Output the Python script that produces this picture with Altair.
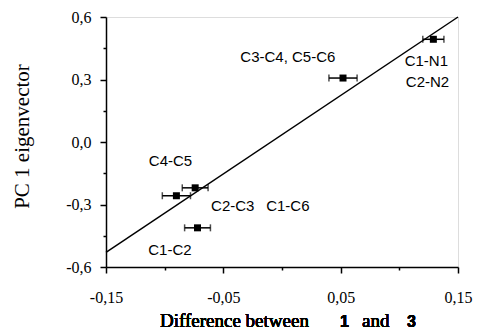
import altair as alt
import pandas as pd

# Data points (difference between 1 and 3, PC 1 eigenvector) with x error
pt_x = [0.129, 0.052, -0.074, -0.090, -0.072]
pt_y = [0.493, 0.307, -0.220, -0.258, -0.412]
pt_err = [0.009, 0.012, 0.011, 0.012, 0.011]

# Fitted line end points
line_x = [-0.15, 0.15]
line_y = [-0.53, 0.60]

# Annotations
lab_text = ["C3-C4, C5-C6", "C1-N1", "C2-N2", "C4-C5", "C2-C3", "C1-C6", "C1-C2"]
lab_x = [0.005, 0.123, 0.124, -0.095, -0.042, 0.005, -0.0955]
lab_y = [0.407, 0.390, 0.289, -0.090, -0.306, -0.306, -0.518]

x_ticks = [-0.15, -0.10, -0.05, 0.0, 0.05, 0.10, 0.15]
y_ticks = [-0.6, -0.45, -0.3, -0.15, 0.0, 0.15, 0.3, 0.45, 0.6]

df_pts = pd.DataFrame({"x": pt_x, "y": pt_y,
                       "xlo": [a - e for a, e in zip(pt_x, pt_err)],
                       "xhi": [a + e for a, e in zip(pt_x, pt_err)]})
df_line = pd.DataFrame({"x": line_x, "y": line_y})
df_lab = pd.DataFrame({"t": lab_text, "x": lab_x, "y": lab_y})

xs = alt.Scale(domain=[-0.15, 0.15], nice=False, zero=False)
ys = alt.Scale(domain=[-0.6, 0.6], nice=False, zero=False)

x_major = "abs(round(datum.value*100)) % 10 == 5"
y_major = "abs(round(datum.value*100)) % 30 == 0"

xaxis = alt.Axis(
    values=x_ticks, title=None, grid=False,
    labelExpr=f"{x_major} ? (datum.value < 0 ? '-' : '') + replace(format(abs(datum.value), '.2f'), '.', ',') : ''",
    tickSize={"condition": {"test": x_major, "value": 6}, "value": 3},
    labelFont="Liberation Serif", labelFontSize=16, labelColor="black",
    labelPadding=16, labelFlush=False, labelOverlap=False,
    domainColor="black", domainWidth=1.5, tickColor="black", tickWidth=1.5,
)
yaxis = alt.Axis(
    values=y_ticks, title="PC 1 eigenvector", grid=False,
    labelExpr=f"{y_major} ? (datum.value < 0 ? '-' : '') + replace(format(abs(datum.value), '.1f'), '.', ',') : ''",
    tickSize={"condition": {"test": y_major, "value": 6}, "value": 3},
    labelFont="Liberation Serif", labelFontSize=16, labelColor="black",
    labelPadding=9, labelFlush=False, labelOverlap=False,
    domainColor="black", domainWidth=1.5, tickColor="black", tickWidth=1.5,
    titleFont="Liberation Serif", titleFontSize=21, titleFontWeight="normal",
    titleColor="black", titleAngle=270, titleAlign="center",
    titleBaseline="alphabetic", titleX=-78, titleY=119,
)


def X(f):
    return alt.X(f, type="quantitative", scale=xs, axis=xaxis)


def Y(f):
    return alt.Y(f, type="quantitative", scale=ys, axis=yaxis)


line = alt.Chart(df_line).mark_line(color="black", strokeWidth=1.5).encode(x=X("x"), y=Y("y"))
err = alt.Chart(df_pts).mark_rule(color="black", strokeWidth=1.5).encode(x=X("xlo"), x2="xhi", y=Y("y"))
cap_l = alt.Chart(df_pts).mark_tick(color="black", orient="vertical", size=7, thickness=1.5).encode(x=X("xlo"), y=Y("y"))
cap_r = alt.Chart(df_pts).mark_tick(color="black", orient="vertical", size=7, thickness=1.5).encode(x=X("xhi"), y=Y("y"))
pts = alt.Chart(df_pts).mark_square(color="black", size=49, opacity=1).encode(x=X("x"), y=Y("y"))
labels = alt.Chart(df_lab).mark_text(font="Liberation Sans", fontSize=15, color="black",
                                     align="center", baseline="middle").encode(
    x=X("x"), y=Y("y"), text="t:N")

# x-axis title composed of serif text and bold sans numerals
t1 = alt.Chart(df_lab).mark_text(text="Difference between", font="Liberation Serif", fontSize=19,
                                 color="black", align="left", baseline="alphabetic").encode(
    x=alt.value(54), y=alt.value(310))
t2 = alt.Chart(df_lab).mark_text(text="1", font="Liberation Sans", fontSize=16, fontWeight="bold",
                                 color="black", align="left", baseline="alphabetic").encode(
    x=alt.value(234), y=alt.value(310))
t3 = alt.Chart(df_lab).mark_text(text="and", font="Liberation Serif", fontSize=19,
                                 color="black", align="left", baseline="alphabetic").encode(
    x=alt.value(256), y=alt.value(310))
t4 = alt.Chart(df_lab).mark_text(text="3", font="Liberation Sans", fontSize=16, fontWeight="bold",
                                 color="black", align="left", baseline="alphabetic").encode(
    x=alt.value(301), y=alt.value(310))

chart = alt.layer(line, err, cap_l, cap_r, pts, labels, t1, t2, t3, t4).properties(
    width=352, height=250,
    autosize=alt.AutoSizeParams(type="none"),
    padding={"left": 106, "top": 17, "right": 19, "bottom": 63},
).configure_view(stroke="black", strokeWidth=1.5).configure(background="white")

chart.save("out.html", embed_options={"renderer": "svg", "actions": False})
